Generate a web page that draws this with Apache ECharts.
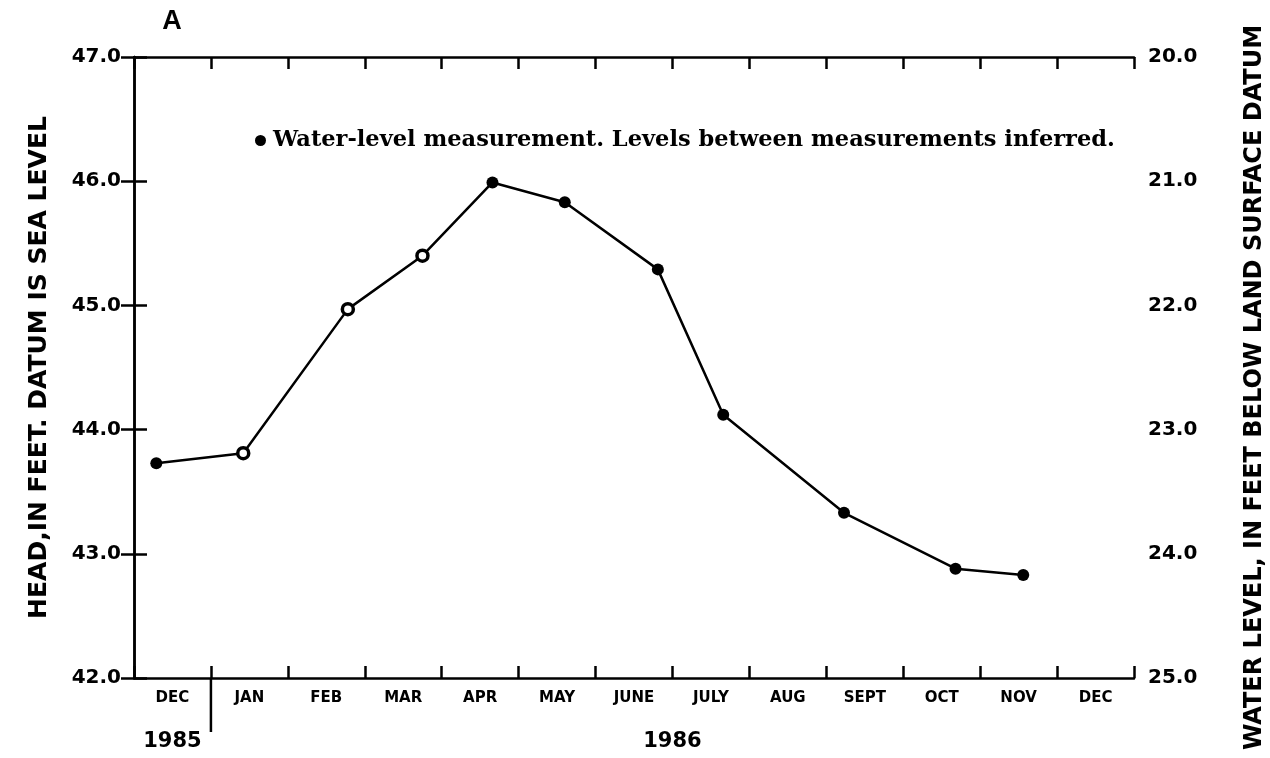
<!DOCTYPE html>
<html>
<head>
<meta charset="utf-8">
<script src="https://cdn.jsdelivr.net/npm/echarts@6/dist/echarts.min.js"></script>
<style>
html,body{margin:0;padding:0;background:#fff;}
#chart{width:1270px;height:758px;}
</style>
</head>
<body>
<div id="chart"></div>
<script>
// Month labels along the bottom (one per month, Dec 1985 .. Dec 1986)
const monthLabels = ['DEC','JAN','FEB','MAR','APR','MAY','JUNE','JULY','AUG','SEPT','OCT','NOV','DEC'];
const yearLabels = ['1985','1986'];
// Measurement time, in months since 1 Dec 1985
const sampleMonth = [0.29, 1.42, 2.78, 3.75, 4.66, 5.60, 6.81, 7.66, 9.23, 10.68, 11.56];
// Head, in feet above sea level
const headFeet = [43.73, 43.81, 44.97, 45.40, 45.99, 45.83, 45.29, 44.12, 43.33, 42.88, 42.83];
// Open (ring) markers
const openMarker = [false, true, true, true, false, false, false, false, false, false, false];

const legendText = 'Water-level measurement. Levels between measurements inferred.';
const leftTitle = 'HEAD,IN FEET. DATUM IS SEA LEVEL';
const rightTitle = 'WATER LEVEL, IN FEET BELOW LAND SURFACE DATUM';
const panelLabel = 'A';

const chart = echarts.init(document.getElementById('chart'));

const lineStyle = {color:'#000', width:2.5};
const tickStyle = {color:'#000', width:2.5};
const sans = 'DejaVu Sans';

const seriesData = sampleMonth.map((m, i) => {
  const d = {value:[m, headFeet[i]]};
  if (openMarker[i]) {
    d.itemStyle = {color:'#fff', borderColor:'#000', borderWidth:3.5};
    d.symbolSize = 11;
  }
  return d;
});

const option = {
  animation:false,
  backgroundColor:'#fff',
  grid:{left:134, right:136, top:57, bottom:80, containLabel:false},
  legend:{
    show:true,
    left:250, top:124,
    icon:'circle',
    itemWidth:11, itemHeight:11,
    itemGap:10,
    data:[{name:legendText, itemStyle:{color:'#000'}}],
    textStyle:{fontFamily:'DejaVu Serif', fontWeight:'bold', fontSize:22.5, color:'#000', padding:[0,0,0,2]}
  },
  xAxis:[
    {type:'value', min:0, max:13, interval:1, position:'bottom',
     axisLine:{show:true, lineStyle:lineStyle},
     axisTick:{show:true, inside:true, length:12, lineStyle:tickStyle},
     axisLabel:{show:false}, splitLine:{show:false}},
    {type:'value', min:0, max:13, interval:1, position:'top',
     axisLine:{show:true, lineStyle:lineStyle},
     axisTick:{show:true, inside:true, length:12, lineStyle:tickStyle},
     axisLabel:{show:false}, splitLine:{show:false}},
    {type:'category', data:monthLabels, position:'bottom', boundaryGap:true,
     axisLine:{show:false}, axisTick:{show:false}, splitLine:{show:false},
     axisLabel:{show:true, interval:0, margin:13, color:'#000', fontFamily:sans, fontWeight:'bold', fontSize:15}}
  ],
  yAxis:[
    {type:'value', min:42, max:47, interval:1, position:'left',
     axisLine:{show:true, lineStyle:lineStyle},
     axisTick:{show:true, inside:true, length:13, lineStyle:tickStyle},
     splitLine:{show:false},
     axisLabel:{show:true, margin:13, color:'#000', fontFamily:sans, fontWeight:'bold', fontSize:20,
       formatter:v => v.toFixed(1)}},
    {type:'value', min:20, max:25, interval:1, inverse:true, position:'right',
     axisLine:{show:true, lineStyle:lineStyle},
     axisTick:{show:true, inside:true, length:13, lineStyle:tickStyle},
     splitLine:{show:false},
     axisLabel:{show:true, margin:14, color:'#000', fontFamily:sans, fontWeight:'bold', fontSize:20,
       formatter:v => v.toFixed(1)}}
  ],
  series:[{
    name:legendText,
    type:'line',
    xAxisIndex:0, yAxisIndex:0,
    data:seriesData,
    symbol:'circle', symbolSize:12,
    showSymbol:true,
    itemStyle:{color:'#000'},
    lineStyle:{color:'#000', width:2.5},
    z:5
  }]
};
chart.setOption(option);

const gx = v => chart.convertToPixel({xAxisIndex:0}, v);
const gyL = v => chart.convertToPixel({yAxisIndex:0}, v);
const xBottom = gyL(42);
const xTop = gyL(47);
const midY = (xBottom + xTop) / 2;

chart.setOption({
  graphic:[
    {type:'line', shape:{x1:gx(1), y1:xBottom, x2:gx(1), y2:xBottom + 54}, style:{stroke:'#000', lineWidth:2.5}},
    {type:'text', x:gx(0.5), y:742, style:{text:yearLabels[0], align:'center', verticalAlign:'middle', fontFamily:sans, fontWeight:'bold', fontSize:21, fill:'#000'}},
    {type:'text', x:gx(7), y:742, style:{text:yearLabels[1], align:'center', verticalAlign:'middle', fontFamily:sans, fontWeight:'bold', fontSize:21, fill:'#000'}},
    {type:'text', x:172, y:22, style:{text:panelLabel, align:'center', verticalAlign:'middle', fontFamily:'Liberation Sans', fontWeight:'bold', fontSize:27, fill:'#000'}},
    {type:'text', x:39, y:midY, rotation:Math.PI/2, style:{text:leftTitle, align:'center', verticalAlign:'middle', fontFamily:sans, fontWeight:'bold', fontSize:25, fill:'#000'}},
    {type:'text', x:1255, y:midY + 20, rotation:Math.PI/2, style:{text:rightTitle, align:'center', verticalAlign:'middle', fontFamily:sans, fontWeight:'bold', fontSize:24, fill:'#000'}}
  ]
});
</script>
</body>
</html>
